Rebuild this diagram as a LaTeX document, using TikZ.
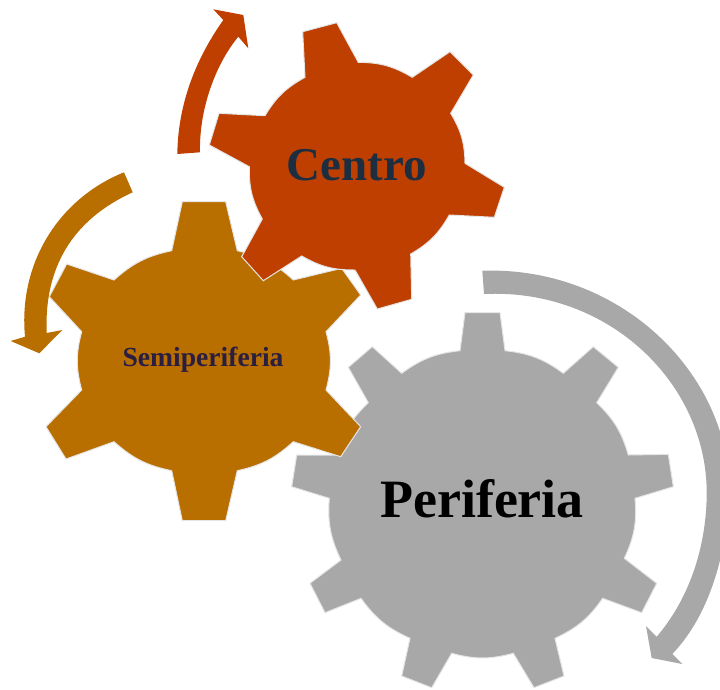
\documentclass[tikz,border=0pt]{standalone}
\usepackage{fontspec}
\setmainfont{Liberation Serif}
\tikzset{
  gear/.style={draw=black!10, line width=1pt, line join=miter},
  bulge/.style={bend left=15},
  gearlabel/.style={inner sep=0pt},
}
\definecolor{centrored}{HTML}{BF3F00}
\definecolor{semibrown}{HTML}{B96E00}
\definecolor{perigray}{HTML}{A8A8A8}
\definecolor{centroink}{HTML}{1C2E40}
\definecolor{semiink}{HTML}{2A1F40}

\begin{document}
\begin{tikzpicture}[x=1pt, y=-1pt]
\useasboundingbox (0,0) rectangle (720,689);

% Periferia gear (lowest)
\draw[gear, fill=perigray] (465,312.7) -- (500,312.7) -- (505,350.7) to[bulge] (563.3,373.3)
  -- (593.3,346.7) -- (618.3,367.3) -- (596.7,402.7) to[bulge] (628.3,455)
  -- (668.3,454.3) -- (673.3,486.7) -- (635,498.3) to[bulge] (624.3,558.3)
  -- (656.7,583.3) -- (641.7,612.7) -- (602.7,598.3) to[bulge] (555,638.3)
  -- (564,676) -- (534,687.7) -- (513.3,653.3) to[bulge] (451.7,653.3)
  -- (431.7,687.7) -- (401.7,676) -- (410,638.3) to[bulge] (361,598.3)
  -- (325,612.7) -- (310,583.3) -- (341,560) to[bulge] (329.3,498.3)
  -- (291.7,486.7) -- (296.7,455) -- (336.7,455) to[bulge] (368.3,402.7)
  -- (348.3,367.3) -- (372.3,346.7) -- (401.7,373.3) to[bulge] (460,350.7) -- cycle;

% Semiperiferia gear
\draw[gear, fill=semibrown] (182.3,201.7) -- (225.7,201.7) -- (237.3,250.7) to[bulge] (293.3,280)
  -- (341.7,268.3) -- (360.7,295) -- (326,331.7) to[bulge] (326,390)
  -- (360.7,426.7) -- (340.7,456.7) -- (293.3,441.7) to[bulge] (237.3,470.7)
  -- (225.7,520.7) -- (182.3,520.7) -- (171.7,470.7) to[bulge] (114,441.7)
  -- (66,459) -- (46,426.7) -- (81.7,390) to[bulge] (81.7,331.7)
  -- (49.3,296.7) -- (66.7,264) -- (114,280) to[bulge] (171.7,250.7) -- cycle;

% Centro gear (on top)
\draw[gear, fill=centrored] (302.7,31.7) -- (336.7,22.7) -- (358.3,62.3) to[bulge] (412.3,77.3)
  -- (450,51.7) -- (473.3,75) -- (450.7,113.3) to[bulge] (465,163.3)
  -- (504.3,187.3) -- (494.3,217.3) -- (449.3,215) to[bulge] (410.7,254)
  -- (411.7,299.3) -- (377.3,309) -- (355,270) to[bulge] (301.7,256)
  -- (263.3,280.7) -- (241.7,256.7) -- (262.3,219) to[bulge] (249.3,166.7)
  -- (209.3,145) -- (219,113.3) -- (265,115.7) to[bulge] (305,77.3) -- cycle;

% Curved arrows
\fill[centrored] (177.3,154) .. controls (178,105) and (195,60) .. (223.3,20)
  -- (213.3,9.3) -- (243.3,15) -- (248.3,48.3) -- (238.3,36.7)
  .. controls (215,65) and (199,110) .. (200,152.3) -- cycle;
\fill[semibrown] (124,172.3) .. controls (60,198) and (18,262) .. (25,336.7)
  -- (10.7,341) -- (39.3,353.3) -- (62.3,330) -- (46.7,333)
  .. controls (44,268) and (72,220) .. (132.7,192.3) -- cycle;
\fill[perigray] (482.3,270.7) .. controls (625,266) and (735,380) .. (729,500)
  .. controls (725,565) and (705,620) .. (672.3,654)
  -- (682.3,664) -- (651.7,658) -- (646,626) -- (656.7,636.7)
  .. controls (688,600) and (706,550) .. (706.7,495)
  .. controls (708,385) and (610,288) .. (484,294) -- cycle;

% Labels
\node[gearlabel, text=centroink, font=\bfseries\fontsize{47}{47}\selectfont] (centro) at (357,165) {Centro};
\node[gearlabel, text=semiink, font=\bfseries\fontsize{27.6}{28}\selectfont] (semi) at (203,360) {Semiperiferia};
\node[gearlabel, text=black, font=\bfseries\fontsize{54}{54}\selectfont] (periferia) at (482,499) {Periferia};
\end{tikzpicture}
\end{document}
